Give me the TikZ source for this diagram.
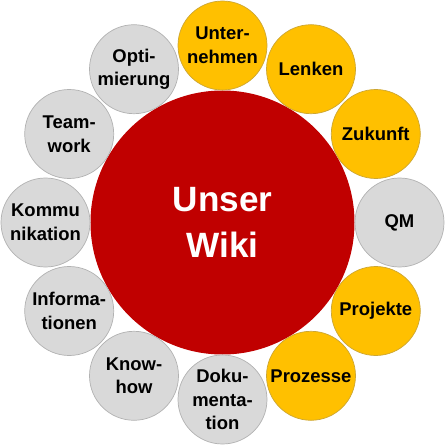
\documentclass[tikz,border=0pt]{standalone}
\usepackage{fontspec}
\setmainfont{Liberation Sans}
\usepackage{xcolor}
\usetikzlibrary{positioning,calc}

\definecolor{wikirot}{HTML}{C00000}
\definecolor{wikigold}{HTML}{FFC000}
\definecolor{wikigrau}{HTML}{D9D9D9}

\tikzset{
  bubble/.style={circle, minimum size=1.78cm, inner sep=0pt, align=center,
    font=\bfseries\fontsize{10.5}{13.5}\selectfont, thin},
  goldbub/.style={bubble, fill=wikigold, draw=wikigold!75!black!80},
  graubub/.style={bubble, fill=wikigrau, draw=black!30},
}

\begin{document}
\begin{tikzpicture}
        % Rahmen wie im Bild
        \def\rR{3.54}
        \def\rW{2.64}
        \useasboundingbox (-4.45,-4.47) rectangle (4.47,4.45);
        \coordinate (mitte) at (0,0);
        % Kreis in der Mitte
        \node[circle, fill=wikirot, minimum size=2*\rW cm, inner sep=0pt,
          align=center, text=white,
          font=\bfseries\fontsize{20}{26}\selectfont] (wiki) at (mitte) {Unser\\Wiki};
        % Themen im Kreis herum
        \foreach \ang/\nm/\sty/\txt in {
            90/unternehmen/goldbub/{Unter-\\nehmen},
            60/lenken/goldbub/{Lenken},
            30/zukunft/goldbub/{Zukunft},
            0/qm/graubub/{QM},
            -30/projekte/goldbub/{Projekte},
            -60/prozesse/goldbub/{Prozesse},
            -90/doku/graubub/{Doku-\\menta-\\tion},
            -120/knowhow/graubub/{Know-\\how},
            -150/info/graubub/{Informa-\\tionen},
            180/kommu/graubub/{Kommu\\nikation},
            150/teamwork/graubub/{Team-\\work},
            120/opti/graubub/{Opti-\\mierung}}
          \node[\sty] (\nm) at ($(mitte)+(\ang:\rR)$) {\txt};
    \end{tikzpicture}
\end{document}
